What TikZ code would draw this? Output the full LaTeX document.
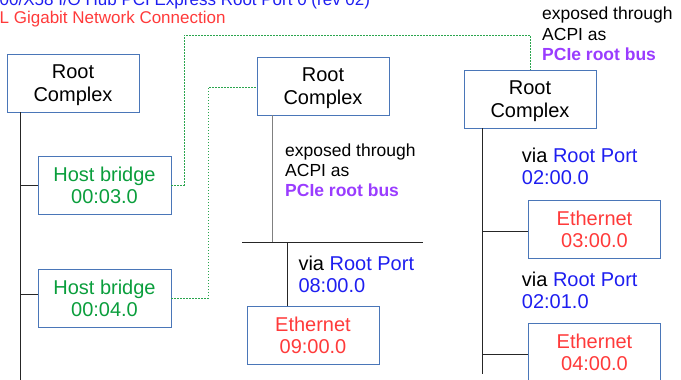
\documentclass[tikz,border=0pt]{standalone}
\usepackage{fontspec}
\setmainfont{Liberation Sans}
\definecolor{boxblue}{HTML}{4A76B8}
\definecolor{hbgreen}{HTML}{0A9E3C}
\definecolor{dotgreen}{HTML}{2AA54E}
\definecolor{ethred}{HTML}{FF3A3A}
\definecolor{portblue}{HTML}{1E1EF0}
\definecolor{acpipurple}{HTML}{9A3CFF}
\begin{document}
\begin{tikzpicture}[x=1pt,y=-1pt,
  box/.style={draw=boxblue,line width=0.8pt,minimum width=132pt,minimum height=58pt,inner sep=0pt,
    align=center,text depth=0pt,font=\fontsize{20}{22.4}\selectfont},
  note/.style={anchor=north west,inner sep=0pt,align=left},
  link/.style={dotgreen,line width=1pt,dash pattern=on 1.5pt off 1.5pt},
  wire/.style={black!85,line width=0.8pt}]
\useasboundingbox (0,0) rectangle (681,380);
\node[note,font=\fontsize{17}{18.3}\selectfont] (lspci) at (-0.5,-7.4)
  {\textcolor{portblue}{00/X58 I/O Hub PCI Express Root Port 0 (rev 02)}\\\textcolor{ethred}{L Gigabit Network Connection}};
\node[box] (rc1) at (73,83) {Root\\Complex};
\node[box,text=hbgreen,minimum width=133pt] (hb1) at (104.5,185) {Host bridge\\00:03.0};
\node[box,text=hbgreen,minimum width=133pt] (hb2) at (104.5,298) {Host bridge\\00:04.0};
\node[box] (rc2) at (323,86) {Root\\Complex};
\node[box,text=ethred] (eth9) at (313,335.5) {Ethernet\\09:00.0};
\node[box] (rc3) at (530,99) {Root\\Complex};
\node[box,text=ethred] (eth3) at (594.5,229) {Ethernet\\03:00.0};
\node[box,text=ethred] (eth4) at (594.5,352) {Ethernet\\04:00.0};
\node[note,font=\fontsize{17.5}{20}\selectfont] (acpi2) at (285,143.2)
  {exposed through\\ACPI as\\\textcolor{acpipurple}{\bfseries PCIe root bus}};
\node[note,font=\fontsize{17.5}{20.8}\selectfont] (acpi3) at (542,6.5)
  {exposed through\\ACPI as\\\textcolor{acpipurple}{\bfseries PCIe root bus}};
\node[note,font=\fontsize{20}{22.3}\selectfont] (port8) at (298.3,255.6)
  {via \textcolor{portblue}{Root Port}\\\textcolor{portblue}{08:00.0}};
\node[note,font=\fontsize{20}{22.2}\selectfont] (port20) at (521.7,148)
  {via \textcolor{portblue}{Root Port}\\\textcolor{portblue}{02:00.0}};
\node[note,font=\fontsize{20}{22.6}\selectfont] (port21) at (521.7,271.4)
  {via \textcolor{portblue}{Root Port}\\\textcolor{portblue}{02:01.0}};
\coordinate (end1) at (20.3,381);
\coordinate (end3) at (482.3,374);
\coordinate (busL) at (242,242);
\coordinate (busR) at (423,242);
\coordinate (bend1) at (184,35);
\draw[wire] (rc1.south -| end1) -- (end1);
\draw[wire] (hb1.west -| end1) -- (hb1.west);
\draw[wire] ([yshift=4pt]hb2.west -| end1) -- ([yshift=4pt]hb2.west);
\draw[wire] (busL) -- (busR);
\draw[wire,gray] ([xshift=-51pt]rc2.south) -- ([xshift=-51pt]rc2.south |- busL);
\draw[wire] ([xshift=-26pt]eth9.north |- busL) -- ([xshift=-26pt]eth9.north);
\draw[wire] (rc3.south -| end3) -- (end3);
\draw[wire] ([yshift=-2pt]eth3.west -| end3) -- ([yshift=-2pt]eth3.west);
\draw[wire] ([yshift=-2pt]eth4.west -| end3) -- ([yshift=-2pt]eth4.west);
\draw[link] (hb1.east) -| (bend1) -| (rc3.north);
\draw[link] (hb2.east) -| ([xshift=-48pt,yshift=-1pt]rc2.west) -- ([yshift=-1pt]rc2.west);
\end{tikzpicture}
\end{document}
